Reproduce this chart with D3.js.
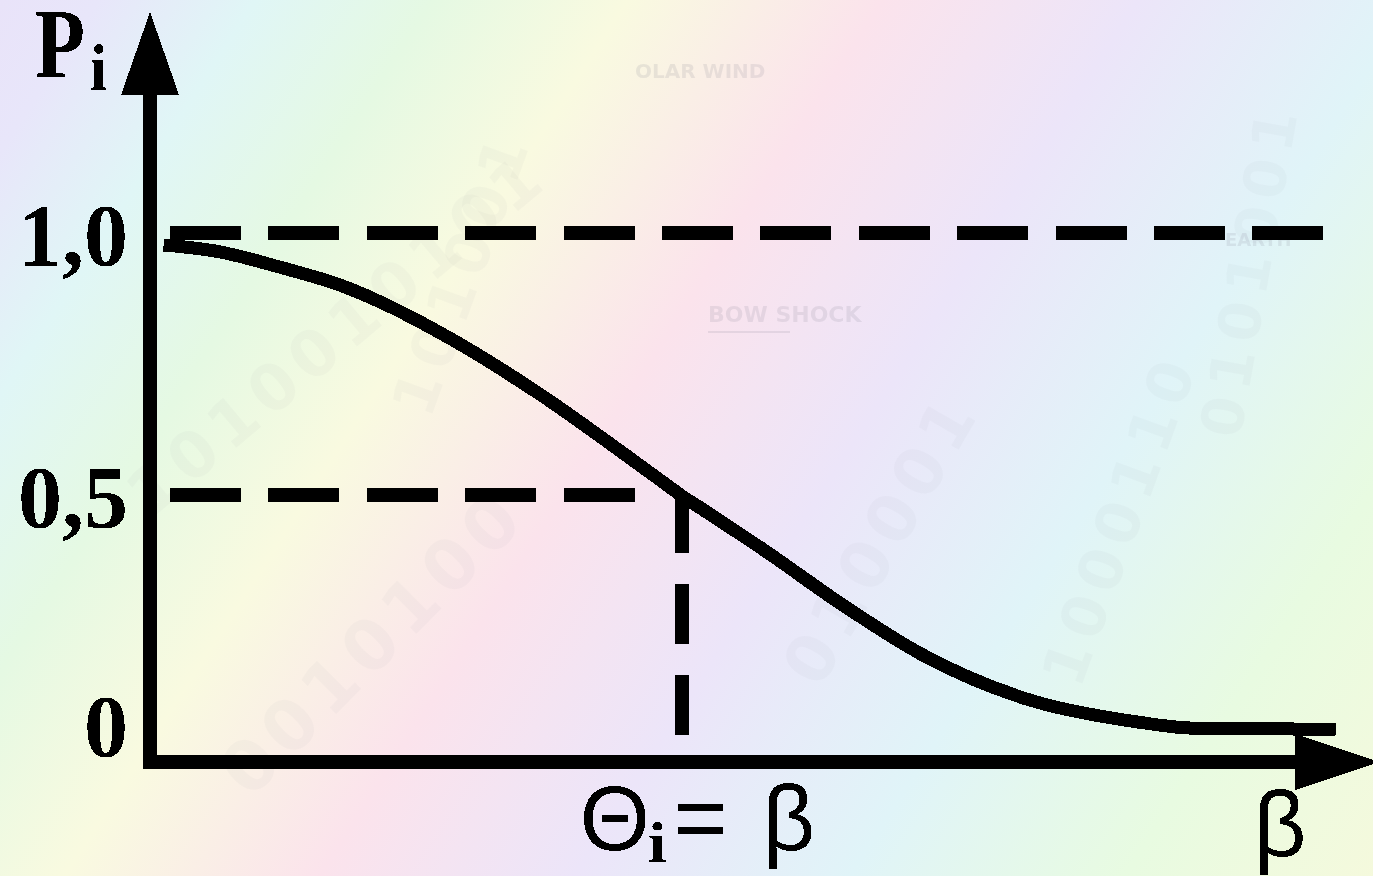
<!DOCTYPE html>
<html>
<head>
<meta charset="utf-8">
<script src="https://cdn.jsdelivr.net/npm/d3@7"></script>
<style>
  html, body { margin: 0; padding: 0; overflow: hidden; background: #eef; }
  svg { display: block; }
</style>
</head>
<body>
<svg id="chart" width="1373" height="876"></svg>
<script>
// Item characteristic curve: probability of success P_i against difficulty β
const theta = [-3.04, -2.71, -2.36, -1.99, -1.79, -1.34, -0.84, -0.17, 0, 0.15, 0.49, 0.98, 1.41, 2.05, 2.64, 3.02, 3.85];
const prob  = [0.977, 0.964, 0.935, 0.899, 0.872, 0.796, 0.695, 0.540, 0.50, 0.468, 0.395, 0.284, 0.197, 0.109, 0.069, 0.055, 0.053];
const yTicks = [0, 0.5, 1.0];
const yTickLabels = ["0", "0,5", "1,0"];
const guideLevels = [1.0, 0.5];
const betaAt = 0;          // point where Θ_i = β
const thetaDomain = [-3.12, 4.07];

// faint backdrop captions
const backdropWords = ["OLAR WIND", "BOW SHOCK", "EARTH"];
const backdropDigits = ["1010010101", "0010100", "101001", "010001", "1000110", "0101001"];

const W = 1373, H = 876;
const svg = d3.select("#chart");
const defs = svg.append("defs");

// pastel diagonal rainbow wash
const grad = defs.append("linearGradient")
  .attr("id", "wash").attr("gradientUnits", "userSpaceOnUse")
  .attr("x1", 0).attr("y1", 0).attr("x2", 1388).attr("y2", 893);
[
  [0.00, "#e9e3f9"], [0.05, "#e8e6fa"], [0.13, "#e0f6f6"], [0.22, "#e5f9e3"],
  [0.32, "#f9fae0"], [0.45, "#fbe3ec"], [0.58, "#ece5f9"], [0.72, "#e0f4f8"],
  [0.86, "#e8fbe1"], [1.00, "#f6f9dc"]
].forEach(([o, c]) => grad.append("stop").attr("offset", o).attr("stop-color", c));

// hard-edged rendering for the drawing
const crisp = defs.append("filter").attr("id", "crisp")
  .attr("x", "-5%").attr("y", "-5%").attr("width", "110%").attr("height", "110%");
crisp.append("feComponentTransfer").append("feFuncA")
  .attr("type", "discrete").attr("tableValues", "0 1");

svg.append("rect").attr("width", W).attr("height", H).attr("fill", "url(#wash)");

// backdrop watermark
const bg = svg.append("g").attr("font-family", "'DejaVu Sans', sans-serif").attr("font-weight", "bold");
const wordPos = [[635, 78, 20], [708, 322, 22], [1225, 246, 18]];
backdropWords.forEach((w, i) => {
  bg.append("text").attr("x", wordPos[i][0]).attr("y", wordPos[i][1])
    .attr("font-size", wordPos[i][2]).attr("fill", "#7a7a8a").attr("opacity", 0.14).text(w);
});
bg.append("line").attr("x1", 708).attr("x2", 790).attr("y1", 332).attr("y2", 332)
  .attr("stroke", "#7a7a8a").attr("stroke-width", 2).attr("opacity", 0.14);
const digitPos = [[150, 520, -40, 64], [250, 800, -45, 70], [430, 420, -70, 60],
                  [820, 690, -60, 66], [1080, 690, -70, 60], [1240, 440, -80, 58]];
backdropDigits.forEach((d, i) => {
  const [x, y, r, s] = digitPos[i];
  bg.append("text").attr("transform", `translate(${x},${y}) rotate(${r})`)
    .attr("font-size", s).attr("letter-spacing", 8)
    .attr("fill", "#8a8a9a").attr("opacity", 0.045).text(d);
});

// scales
const x = d3.scaleLinear().domain(thetaDomain).range([150, 1373]);
const y = d3.scaleLinear().domain([0, 1]).range([757, 233]);

const originX = x(thetaDomain[0]);
const axisY = y(0) + 5;

const ink = svg.append("g").attr("filter", "url(#crisp)");

// dashed guide lines
const guideStart = originX + 20;
const guideEnd = { 1: 1323, 0.5: x(betaAt) - 40 };
guideLevels.forEach(v => {
  ink.append("line")
    .attr("x1", guideStart).attr("x2", guideEnd[v])
    .attr("y1", y(v)).attr("y2", y(v))
    .attr("stroke", "#000").attr("stroke-width", 14)
    .attr("stroke-dasharray", "71 27.4");
});
ink.append("line")
  .attr("x1", x(betaAt) + 1).attr("x2", x(betaAt) + 1)
  .attr("y1", y(0.5) - 2).attr("y2", axisY - 20)
  .attr("stroke", "#000").attr("stroke-width", 14)
  .attr("stroke-dasharray", "60 31");

// axes with arrowheads
ink.append("line").attr("x1", originX).attr("x2", originX)
  .attr("y1", axisY + 6).attr("y2", 60)
  .attr("stroke", "#000").attr("stroke-width", 14);
ink.append("path")
  .attr("d", `M${originX},12 L${originX + 29},95 L${originX - 29},95 Z`).attr("fill", "#000");
ink.append("line").attr("x1", originX - 7).attr("x2", 1330)
  .attr("y1", axisY).attr("y2", axisY)
  .attr("stroke", "#000").attr("stroke-width", 13);
ink.append("path")
  .attr("d", `M1295,${axisY - 28} L1380,${axisY} L1295,${axisY + 28} Z`).attr("fill", "#000");

// characteristic curve
const pts = theta.map((t, i) => [t, prob[i]]);
ink.append("path")
  .datum(pts)
  .attr("d", d3.line().x(d => x(d[0])).y(d => y(d[1])).curve(d3.curveMonotoneX))
  .attr("fill", "none").attr("stroke", "#000").attr("stroke-width", 13);

// y tick labels
const serif = "'Liberation Serif', 'Times New Roman', serif";
yTicks.forEach((v, i) => {
  ink.append("text")
    .attr("x", 128).attr("y", v === 0 ? y(v) - 1 : y(v) + 32)
    .attr("text-anchor", "end")
    .attr("font-family", serif).attr("font-weight", "bold").attr("font-size", 88)
    .text(yTickLabels[i]);
});

// axis titles
ink.append("text").attr("x", 35).attr("y", 77)
  .attr("font-family", serif).attr("font-weight", "bold").attr("font-size", 100)
  .attr("textLength", 50).attr("lengthAdjust", "spacingAndGlyphs").text("P");
ink.append("text").attr("x", 90).attr("y", 90)
  .attr("font-family", serif).attr("font-weight", "bold").attr("font-size", 66)
  .attr("textLength", 17).attr("lengthAdjust", "spacingAndGlyphs").text("i");

const sans = "'Liberation Sans', 'DejaVu Sans', sans-serif";
const bx = x(betaAt);
ink.append("text").attr("x", bx - 101).attr("y", 850)
  .attr("font-family", sans).attr("font-size", 90).text("Θ");
ink.append("text").attr("x", bx - 33).attr("y", 862)
  .attr("font-family", serif).attr("font-weight", "bold").attr("font-size", 58)
  .attr("textLength", 19).attr("lengthAdjust", "spacingAndGlyphs").text("i");
ink.append("text").attr("x", bx + 20).attr("y", 850).attr("text-anchor", "middle")
  .attr("font-family", sans).attr("font-size", 92).text("=");
ink.append("text").attr("x", bx + 108).attr("y", 850).attr("text-anchor", "middle")
  .attr("font-family", sans).attr("font-size", 92).text("β");
ink.append("text").attr("x", x(thetaDomain[1]) - 93).attr("y", 856).attr("text-anchor", "middle")
  .attr("font-family", sans).attr("font-size", 92).text("β");
</script>
</body>
</html>
